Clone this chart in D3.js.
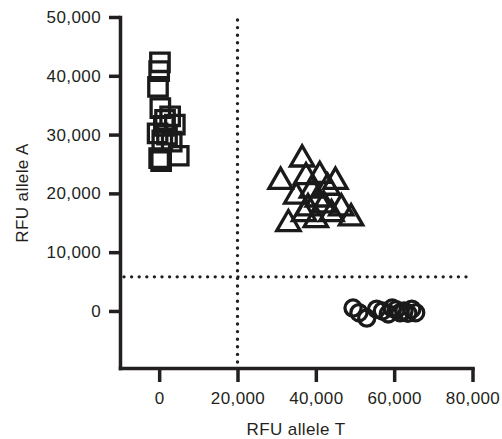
<!DOCTYPE html>
<html>
<head>
<meta charset="utf-8">
<script src="https://cdn.jsdelivr.net/npm/d3@7"></script>
<style>
  body { margin: 0; background: #fff; }
  text { font-family: "Liberation Sans", Arial, Helvetica, sans-serif; fill: #231f20; }
</style>
</head>
<body>
<div id="chart"></div>
<script>
// genotype clusters: RFU allele T (x) vs RFU allele A (y)
var squareT = [200, 0, -300, 300, 2800, 4000, 1200, -400, 2000, 800, 3200, 0, 500, 5000, 1500];
var squareA = [42300, 40800, 38100, 34500, 33100, 31700, 31500, 30200, 30000, 29000, 28800, 26000, 25500, 26400, 32500];

var triangleT = [31000, 36500, 33000, 37500, 39000, 35000, 41000, 43000, 45000, 38000, 40000, 42000, 44000, 46500, 49000, 37000, 40500];
var triangleA = [22000, 25800, 14800, 22800, 20500, 19500, 23000, 21000, 22000, 17500, 15500, 18000, 16500, 17500, 15800, 16500, 19000];

var circleT = [49500, 51000, 53000, 55500, 57000, 58500, 59500, 60500, 61500, 62500, 63500, 65500, 64500];
var circleA = [500, -300, -1200, 300, 0, -500, 500, 200, -300, 0, -400, -300, 300];

var xTicks = [0, 20000, 40000, 60000, 80000];
var yTicks = [0, 10000, 20000, 30000, 40000, 50000];

var cutoffT = 20000;
var cutoffA = 5800;

var width = 502, height = 439;

var svg = d3.select('#chart').append('svg')
  .attr('width', width)
  .attr('height', height);

var x = d3.scaleLinear().domain([-10000, 80000]).range([120, 472.5]);
var y = d3.scaleLinear().domain([-9700, 50000]).range([368, 17]);

// dotted cut-off lines
svg.append('line')
  .attr('x1', x(cutoffT)).attr('x2', x(cutoffT))
  .attr('y1', y(50000) + 3).attr('y2', y(-9700))
  .attr('stroke', '#231f20')
  .attr('stroke-width', 3.4)
  .attr('stroke-linecap', 'round')
  .attr('stroke-dasharray', '0 7.6');

svg.append('line')
  .attr('x1', x(-10000) + 4).attr('x2', x(80000))
  .attr('y1', y(cutoffA)).attr('y2', y(cutoffA))
  .attr('stroke', '#231f20')
  .attr('stroke-width', 3.4)
  .attr('stroke-linecap', 'round')
  .attr('stroke-dasharray', '0 7.6');

function pts(xs, ys) {
  return xs.map(function (d, i) { return [d, ys[i]]; });
}

function drawGroup(data, type, size) {
  svg.append('g').selectAll('path')
    .data(data)
    .enter()
    .append('path')
    .attr('transform', function (d) { return 'translate(' + x(d[0]) + ',' + y(d[1]) + ')'; })
    .attr('d', d3.symbol().type(type).size(size))
    .attr('fill', 'none')
    .attr('stroke', '#1a1a1a')
    .attr('stroke-width', 3.3);
}

drawGroup(pts(squareT, squareA), d3.symbolSquare, 340);
drawGroup(pts(triangleT, triangleA), d3.symbolTriangle, 235);
drawGroup(pts(circleT, circleA), d3.symbolCircle, 205);

// axes
var yAxis = d3.axisLeft(y)
  .tickValues(yTicks)
  .tickFormat(d3.format(','))
  .tickSize(11)
  .tickSizeOuter(0)
  .tickPadding(8);

var xAxis = d3.axisBottom(x)
  .tickValues(xTicks)
  .tickFormat(d3.format(','))
  .tickSize(14)
  .tickSizeOuter(0)
  .tickPadding(10);

var gy = svg.append('g')
  .attr('transform', 'translate(120,0)')
  .call(yAxis);

var gx = svg.append('g')
  .attr('transform', 'translate(0,368)')
  .call(xAxis);

[gx, gy].forEach(function (g) {
  g.select('.domain')
    .attr('stroke', '#231f20')
    .attr('stroke-width', 3.5)
    .attr('stroke-linecap', 'square');
  g.selectAll('.tick line')
    .attr('stroke', '#231f20')
    .attr('stroke-width', 3.5);
  g.selectAll('.tick text')
    .attr('font-size', 17)
    .attr('letter-spacing', 0.4)
    .attr('fill', '#231f20');
});

gx.selectAll('.tick text').attr('dy', '0.71em');

// axis titles
svg.append('text')
  .attr('x', 296)
  .attr('y', 435)
  .attr('text-anchor', 'middle')
  .attr('font-size', 17)
  .attr('letter-spacing', 0.4)
  .text('RFU allele T');

svg.append('text')
  .attr('transform', 'translate(28,193) rotate(-90)')
  .attr('text-anchor', 'middle')
  .attr('font-size', 17)
  .attr('letter-spacing', 0.4)
  .text('RFU allele A');
</script>
</body>
</html>
